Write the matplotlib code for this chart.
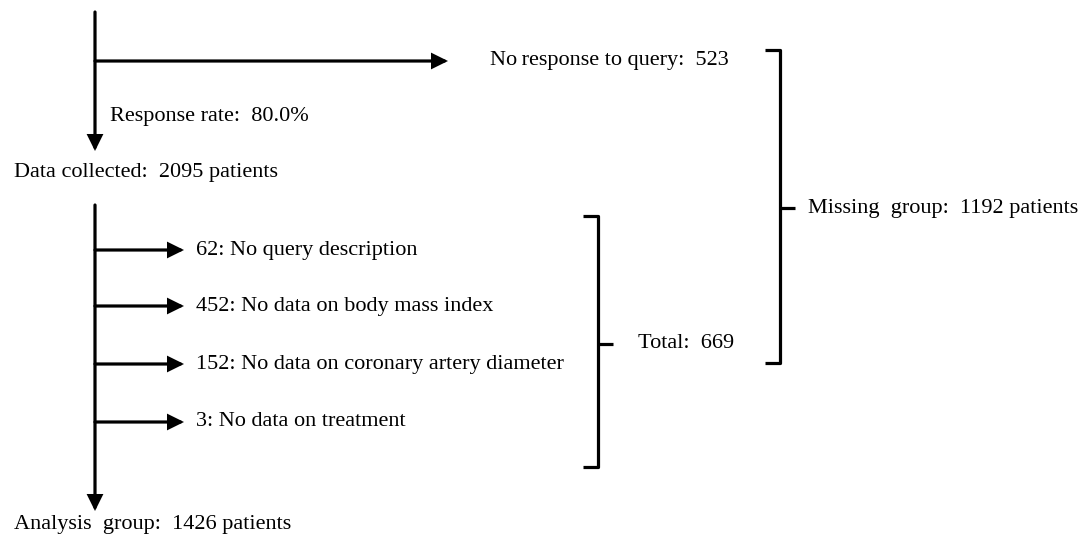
import matplotlib
matplotlib.use('Agg')
import matplotlib.pyplot as plt

# flow numbers
no_response = 523
response_rate = 80.0
collected = 2095
reasons = ['No query description', 'No data on body mass index',
           'No data on coronary artery diameter', 'No data on treatment']
excluded = [62, 452, 152, 3]
total_excluded = 669
missing = 1192
analysis = 1426

plt.rcParams['font.family'] = ['Liberation Serif', 'DejaVu Serif']
FS = 16
LW = 2.3

fig = plt.figure(figsize=(10.86, 5.36), dpi=100)
ax = fig.add_axes([0, 0, 1, 1])
ax.set_xlim(0, 1086)
ax.set_ylim(536, 0)
ax.axis('off')

arrow = dict(arrowstyle='-|>,head_length=0.85,head_width=0.42', lw=LW, color='black',
             shrinkA=0, shrinkB=0, joinstyle='miter')


def arr(x0, y0, x1, y1):
    ax.annotate('', xy=(x1, y1), xytext=(x0, y0), arrowprops=arrow)


def bracket(x, y0, y1, ytip, w=15, tip=15):
    ax.plot([x - w, x, x, x - w], [y0, y0, y1, y1], color='black', lw=LW,
            solid_joinstyle='round', solid_capstyle='butt')
    ax.plot([x, x + tip], [ytip, ytip], color='black', lw=LW, solid_capstyle='butt')


# top part
arr(95, 12, 95, 151)
arr(95, 61, 448, 61)
ax.text(490, 61, f'No\u2009response to query:  {no_response}', fontsize=FS, va='center')
ax.text(110, 116, f'Response rate:  {response_rate:.1f}%', fontsize=FS, va='center')
ax.text(14, 173, f'Data collected:  {collected} patients', fontsize=FS, va='center')

# exclusions
arr(95, 205, 95, 511)
ys = [250, 306, 364, 422]
for y, n, r in zip(ys, excluded, reasons):
    arr(95, y, 184, y)
    ax.text(196, y, f'{n}: {r}', fontsize=FS, va='center')

ax.text(14, 525, f'Analysis  group:  {analysis} patients', fontsize=FS, va='center')

# brackets
bracket(598, 216, 467, 344)
ax.text(638, 344, f'Total:  {total_excluded}', fontsize=FS, va='center')
bracket(780, 50, 363, 208)
ax.text(808, 208, f'Missing  group:  {missing} patients', fontsize=FS, va='center')

fig.savefig('out.png', dpi=100)
